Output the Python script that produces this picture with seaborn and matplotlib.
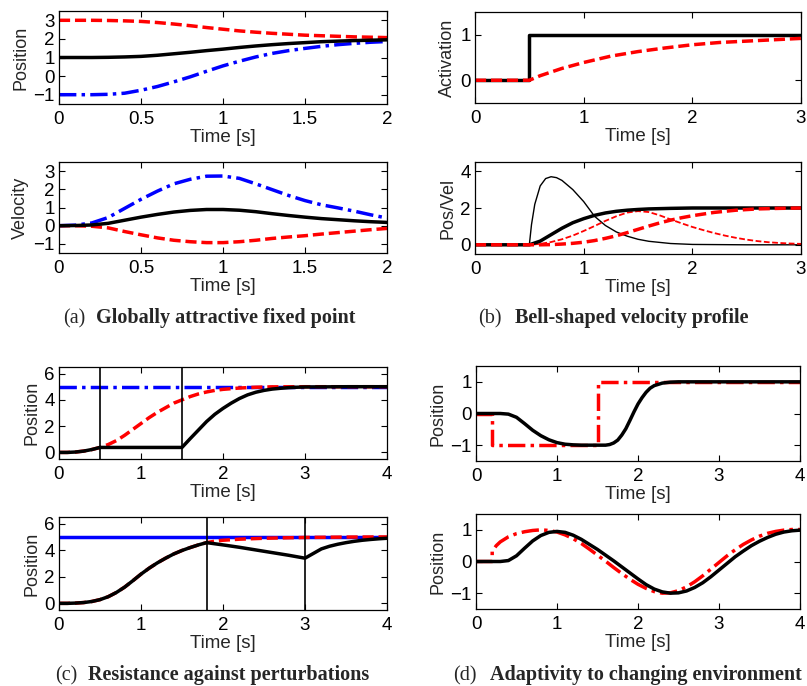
import numpy as np
import pandas as pd
import seaborn as sns
import matplotlib.pyplot as plt

# ---------------- data ----------------
# (a) globally attractive fixed point
t_a = [0.0, 0.1, 0.2, 0.3, 0.4, 0.5, 0.6, 0.7, 0.8, 0.9, 1.0,
       1.1, 1.2, 1.3, 1.4, 1.5, 1.6, 1.7, 1.8, 1.9, 2.0]
pos_a_black = [1.0, 1.0, 1.0, 1.01, 1.03, 1.06, 1.12, 1.2, 1.28, 1.37, 1.45,
               1.54, 1.62, 1.69, 1.75, 1.8, 1.85, 1.88, 1.91, 1.93, 1.95]
pos_a_red = [3.0, 3.0, 3.0, 2.99, 2.97, 2.94, 2.88, 2.8, 2.71, 2.61, 2.52,
             2.43, 2.36, 2.3, 2.25, 2.2, 2.17, 2.14, 2.11, 2.09, 2.07]
pos_a_blue = [-1.0, -1.0, -1.0, -0.98, -0.92, -0.76, -0.56, -0.31, -0.04, 0.26, 0.55,
              0.8, 1.03, 1.22, 1.37, 1.49, 1.6, 1.69, 1.76, 1.82, 1.86]
vel_a_black = [0.0, 0.01, 0.04, 0.13, 0.3, 0.47, 0.62, 0.75, 0.84, 0.89, 0.89,
               0.85, 0.77, 0.66, 0.56, 0.47, 0.39, 0.33, 0.27, 0.22, 0.18]
vel_a_red = [0.0, 0.0, -0.03, -0.12, -0.32, -0.5, -0.67, -0.8, -0.88, -0.93, -0.93,
             -0.88, -0.8, -0.7, -0.62, -0.55, -0.46, -0.38, -0.3, -0.22, -0.15]
vel_a_blue = [0.0, 0.03, 0.15, 0.45, 0.95, 1.45, 1.9, 2.3, 2.55, 2.72, 2.73,
              2.6, 2.3, 1.98, 1.66, 1.38, 1.15, 0.98, 0.8, 0.6, 0.42]

# (b) bell-shaped velocity profile
t_b_step = [0.0, 0.5, 0.5, 3.0]
act_b_black = [0.0, 0.0, 1.0, 1.0]
t_b_act = [0.0, 0.5, 0.6, 0.7, 0.8, 1.0, 1.25, 1.5, 1.75, 2.0, 2.25, 2.5, 2.75, 3.0]
act_b_red = [0.0, 0.0, 0.1, 0.18, 0.26, 0.39, 0.53, 0.63, 0.71, 0.78, 0.83, 0.86, 0.89, 0.92]

t_b_vel_black = [0.0, 0.5, 0.52, 0.55, 0.6, 0.65, 0.7, 0.75, 0.8, 0.9, 1.0, 1.1,
                 1.2, 1.3, 1.4, 1.5, 1.6, 1.8, 2.0, 2.5, 3.0]
vel_b_black = [0.0, 0.0, 1.1, 2.2, 3.2, 3.6, 3.7, 3.65, 3.5, 3.0, 2.35, 1.55,
               1.05, 0.7, 0.47, 0.3, 0.19, 0.07, 0.02, 0.0, 0.0]
t_b_pos_black = [0.0, 0.5, 0.6, 0.7, 0.8, 0.9, 1.0, 1.1, 1.2, 1.3, 1.4, 1.5, 1.6, 1.8, 2.0, 3.0]
pos_b_black = [0.0, 0.0, 0.2, 0.55, 0.9, 1.2, 1.42, 1.6, 1.73, 1.82, 1.88, 1.92, 1.95, 1.98, 2.0, 2.0]
t_b_vel_red = [0.0, 0.5, 0.6, 0.7, 0.8, 0.9, 1.0, 1.1, 1.2, 1.3, 1.4, 1.5, 1.6, 1.7, 1.8,
               1.9, 2.0, 2.1, 2.2, 2.3, 2.4, 2.5, 2.6, 2.7, 2.8, 2.9, 3.0]
vel_b_red = [0.0, 0.0, 0.05, 0.15, 0.3, 0.5, 0.75, 1.02, 1.3, 1.55, 1.75, 1.83, 1.78, 1.6, 1.38,
             1.17, 0.97, 0.8, 0.64, 0.5, 0.38, 0.28, 0.2, 0.14, 0.1, 0.07, 0.05]
t_b_pos_red = [0.0, 0.5, 0.6, 0.7, 0.8, 0.9, 1.0, 1.1, 1.2, 1.3, 1.4, 1.5, 1.6, 1.7, 1.8,
               1.9, 2.0, 2.2, 2.4, 2.6, 2.8, 3.0]
pos_b_red = [0.0, 0.0, 0.0, 0.01, 0.04, 0.08, 0.14, 0.23, 0.35, 0.49, 0.66, 0.84, 1.02, 1.19, 1.34,
             1.47, 1.58, 1.76, 1.88, 1.95, 1.98, 2.0]

# (c) resistance against perturbations
t_c1_black = [0.0, 0.1, 0.2, 0.3, 0.4, 0.5, 1.5, 1.6, 1.7, 1.8, 1.9, 2.0, 2.1, 2.2, 2.3,
              2.4, 2.5, 2.6, 2.7, 2.8, 2.9, 3.0, 3.5, 4.0]
pos_c1_black = [0.0, 0.0, 0.03, 0.1, 0.22, 0.38, 0.38, 1.05, 1.7, 2.35, 2.9, 3.35, 3.75, 4.1, 4.38,
                4.58, 4.72, 4.82, 4.88, 4.93, 4.96, 4.98, 5.0, 5.0]
t_c1_red = [0.0, 0.1, 0.2, 0.3, 0.4, 0.5, 0.6, 0.7, 0.8, 0.9, 1.0, 1.1, 1.2, 1.3, 1.4, 1.5,
            1.6, 1.7, 1.8, 1.9, 2.0, 2.2, 2.4, 2.6, 3.0, 4.0]
pos_c1_red = [0.0, 0.0, 0.03, 0.1, 0.22, 0.38, 0.6, 0.9, 1.3, 1.75, 2.2, 2.65, 3.05, 3.4, 3.75, 4.0,
              4.25, 4.45, 4.6, 4.72, 4.8, 4.9, 4.96, 4.99, 5.0, 5.0]
goal_c = 5.0
perturb_c1 = [0.5, 1.5]

t_c2_black = [0.0, 0.1, 0.2, 0.3, 0.4, 0.5, 0.6, 0.7, 0.8, 0.9, 1.0, 1.1, 1.2, 1.3, 1.4, 1.5,
              1.6, 1.7, 1.8, 2.0, 2.2, 2.4, 2.6, 2.8, 3.0, 3.1, 3.2, 3.3, 3.4, 3.5, 3.6,
              3.7, 3.8, 3.9, 4.0]
pos_c2_black = [0.0, 0.0, 0.02, 0.06, 0.14, 0.28, 0.5, 0.82, 1.22, 1.7, 2.2, 2.65, 3.05, 3.4, 3.72, 3.98,
                4.2, 4.4, 4.57, 4.4, 4.22, 4.02, 3.82, 3.62, 3.4, 3.75, 4.1, 4.3, 4.45, 4.57, 4.67,
                4.75, 4.81, 4.86, 4.9]
t_c2_red = [0.0, 0.1, 0.2, 0.3, 0.4, 0.5, 0.6, 0.7, 0.8, 0.9, 1.0, 1.1, 1.2, 1.3, 1.4, 1.5,
            1.6, 1.7, 1.8, 1.9, 2.0, 2.2, 2.5, 3.0, 3.5, 4.0]
pos_c2_red = [0.0, 0.0, 0.02, 0.06, 0.14, 0.28, 0.5, 0.82, 1.22, 1.7, 2.2, 2.65, 3.05, 3.4, 3.72, 3.98,
              4.2, 4.4, 4.57, 4.68, 4.75, 4.83, 4.9, 4.96, 4.99, 5.0]
perturb_c2 = [1.8, 3.0]

# (d) adaptivity to changing environment
t_d1_red = [0.0, 0.2, 0.2, 1.5, 1.5, 4.0]
pos_d1_red = [0.0, 0.0, -1.0, -1.0, 1.0, 1.0]
t_d1_black = [0.0, 0.3, 0.4, 0.5, 0.6, 0.7, 0.8, 0.9, 1.0, 1.1, 1.2, 1.3, 1.6, 1.65, 1.7,
              1.75, 1.8, 1.85, 1.9, 1.95, 2.0, 2.05, 2.1, 2.15, 2.2, 2.3, 2.4, 2.5, 4.0]
pos_d1_black = [0.0, 0.0, -0.02, -0.12, -0.32, -0.53, -0.7, -0.83, -0.92, -0.97, -0.99, -1.0, -1.0, -0.98, -0.93,
                -0.84, -0.68, -0.48, -0.22, 0.05, 0.3, 0.5, 0.67, 0.8, 0.88, 0.96, 0.99, 1.0, 1.0]

t_d2_black = [0.0, 0.3, 0.4, 0.5, 0.6, 0.7, 0.8, 0.9, 1.0, 1.1, 1.2, 1.3, 1.4, 1.5, 1.6, 1.7,
              1.8, 1.9, 2.0, 2.1, 2.2, 2.3, 2.4, 2.5, 2.6, 2.7, 2.8, 2.9, 3.0, 3.1, 3.2,
              3.3, 3.4, 3.5, 3.6, 3.7, 3.8, 3.9, 4.0]
pos_d2_black = [0.0, 0.0, 0.03, 0.18, 0.42, 0.65, 0.82, 0.92, 0.95, 0.92, 0.83, 0.7, 0.54, 0.38, 0.2, 0.02,
                -0.17, -0.36, -0.55, -0.73, -0.87, -0.96, -1.0, -0.99, -0.93, -0.82, -0.67, -0.48, -0.27, -0.06, 0.15,
                0.33, 0.5, 0.64, 0.76, 0.86, 0.93, 0.97, 0.99]
t_d2_red = [0.0, 0.2, 0.2, 0.25, 0.3, 0.4, 0.5, 0.6, 0.7, 0.8, 0.9, 1.0, 1.1, 1.2, 1.3, 1.4,
            1.5, 1.6, 1.7, 1.8, 1.9, 2.0, 2.1, 2.2, 2.3, 2.4, 2.5, 2.6, 2.7, 2.8, 2.9,
            3.0, 3.1, 3.2, 3.3, 3.4, 3.5, 3.6, 3.7, 3.8, 3.9, 4.0]
pos_d2_red = [0.0, 0.0, 0.32, 0.5, 0.62, 0.78, 0.88, 0.94, 0.98, 1.0, 0.98, 0.93, 0.84, 0.72, 0.57, 0.39,
              0.2, 0.01, -0.19, -0.38, -0.56, -0.72, -0.85, -0.95, -1.0, -0.99, -0.92, -0.8, -0.64, -0.45, -0.24,
              -0.03, 0.18, 0.37, 0.54, 0.68, 0.8, 0.89, 0.95, 0.99, 1.01, 1.01]

captions = [("(a)", "Globally attractive fixed point"),
            ("(b)", "Bell-shaped velocity profile"),
            ("(c)", "Resistance against perturbations"),
            ("(d)", "Adaptivity to changing environment")]

# ---------------- style ----------------
sns.set_theme(style="ticks")
plt.rcParams['font.family'] = ['Liberation Sans', 'DejaVu Sans']
plt.rcParams.update({
    'xtick.direction': 'in', 'ytick.direction': 'in',
    'xtick.top': True, 'ytick.right': True,
    'xtick.major.size': 4, 'ytick.major.size': 4,
    'xtick.major.width': 0.8, 'ytick.major.width': 0.8,
    'axes.linewidth': 0.9, 'axes.edgecolor': 'black',
    'xtick.color': 'black', 'ytick.color': 'black',
    'xtick.labelsize': 13.5, 'ytick.labelsize': 13.5,
    'xtick.major.pad': 5, 'ytick.major.pad': 3,
    'axes.labelpad': 1.5,
})

W, H = 807, 686
fig = plt.figure(figsize=(W / 100, H / 100), dpi=100)


def add_ax(x0, y0, x1, y1):
    return fig.add_axes([x0 / W, 1 - y1 / H, (x1 - x0) / W, (y1 - y0) / H])


BLK, RED, BLU = "black", (1, 0, 0), (0, 0, 1)
THICK, THIN = 2.5, 1.0
DASH = (3.2, 1.4)
DASHDOT = (5.0, 1.5, 1.0, 1.5)


def line(ax, x, y, color, ls="-", lw=THICK):
    df = pd.DataFrame({"t": x, "v": y})
    lines_before = len(ax.lines)
    sns.lineplot(data=df, x="t", y="v", ax=ax, color=color,
                 linewidth=lw, estimator=None, sort=False, legend=False)
    for ln in ax.lines[lines_before:]:
        if ls == "--":
            ln.set_dashes(DASH)
        elif ls == "-.":
            ln.set_dashes(DASHDOT)


def finish(ax, xlim, xticks, xlabels, ylim, yticks, ylabel):
    ax.set_xlim(*xlim)
    ax.set_ylim(*ylim)
    ax.set_xticks(xticks)
    ax.set_xticklabels(xlabels)
    ax.set_yticks(yticks)
    ax.set_xlabel("Time [s]", fontsize=13.5, labelpad=1)
    ax.set_ylabel(ylabel, fontsize=13, labelpad=3)
    for s in ax.spines.values():
        s.set_visible(True)


# (a)
ax = add_ax(59, 11, 387, 104)
line(ax, t_a, pos_a_blue, BLU, "-.")
line(ax, t_a, pos_a_red, RED, "--")
line(ax, t_a, pos_a_black, BLK, "-")
finish(ax, (0, 2), [0, 0.5, 1, 1.5, 2], ["0", "0.5", "1", "1.5", "2"], (-1.5, 3.5), [-1, 0, 1, 2, 3], "Position")

ax = add_ax(59, 162, 387, 253)
line(ax, t_a, vel_a_blue, BLU, "-.")
line(ax, t_a, vel_a_red, RED, "--")
line(ax, t_a, vel_a_black, BLK, "-")
finish(ax, (0, 2), [0, 0.5, 1, 1.5, 2], ["0", "0.5", "1", "1.5", "2"], (-1.5, 3.5), [-1, 0, 1, 2, 3], "Velocity")

# (b)
ax = add_ax(475, 12, 801, 103)
line(ax, t_b_step, act_b_black, BLK, "-")
line(ax, t_b_act, act_b_red, RED, "--")
finish(ax, (0, 3), [0, 1, 2, 3], ["0", "1", "2", "3"], (-0.5, 1.5), [0, 1], "Activation")

ax = add_ax(475, 162, 801, 254)
line(ax, t_b_vel_black, vel_b_black, BLK, "-", THIN)
line(ax, t_b_vel_red, vel_b_red, RED, "--", THIN * 1.3)
line(ax, t_b_pos_black, pos_b_black, BLK, "-")
line(ax, t_b_pos_red, pos_b_red, RED, "--")
finish(ax, (0, 3), [0, 1, 2, 3], ["0", "1", "2", "3"], (-0.5, 4.5), [0, 2, 4], "Pos/Vel")

# (c)
ax = add_ax(59, 367, 387, 459)
ax.axhline(goal_c, color=BLU, linewidth=THICK, dashes=DASHDOT)
line(ax, t_c1_red, pos_c1_red, RED, "--")
line(ax, t_c1_black, pos_c1_black, BLK, "-")
for p in perturb_c1:
    ax.axvline(p, color=BLK, linewidth=1.2)
finish(ax, (0, 4), [0, 1, 2, 3, 4], ["0", "1", "2", "3", "4"], (-0.5, 6.5), [0, 2, 4, 6], "Position")

ax = add_ax(59, 517, 387, 610)
ax.axhline(goal_c, color=BLU, linestyle="-", linewidth=THICK)
line(ax, t_c2_red, pos_c2_red, RED, "--")
line(ax, t_c2_black, pos_c2_black, BLK, "-")
for p in perturb_c2:
    ax.axvline(p, color=BLK, linewidth=1.2)
finish(ax, (0, 4), [0, 1, 2, 3, 4], ["0", "1", "2", "3", "4"], (-0.5, 6.5), [0, 2, 4, 6], "Position")

# (d)
ax = add_ax(476, 366, 800, 461)
line(ax, t_d1_red, pos_d1_red, RED, "-.")
line(ax, t_d1_black, pos_d1_black, BLK, "-")
finish(ax, (0, 4), [0, 1, 2, 3, 4], ["0", "1", "2", "3", "4"], (-1.5, 1.5), [-1, 0, 1], "Position")

ax = add_ax(476, 514, 800, 609)
line(ax, t_d2_red, pos_d2_red, RED, "-.")
line(ax, t_d2_black, pos_d2_black, BLK, "-")
finish(ax, (0, 4), [0, 1, 2, 3, 4], ["0", "1", "2", "3", "4"], (-1.5, 1.5), [-1, 0, 1], "Position")

# captions: (label left, bold left, bold right, baseline) in pixels
cap_pos = [(63, 96, 362, 323), (478, 515, 760, 323), (55, 88, 385, 680), (453, 490, 802, 680)]
serif = ['Liberation Serif', 'DejaVu Serif']
fig.canvas.draw()
renderer = fig.canvas.get_renderer()
for (lab, txt), (x0, x1, x2, yb) in zip(captions, cap_pos):
    tb = fig.text(x1 / W, 1 - yb / H, txt, family=serif, fontsize=12, fontweight="bold",
                  ha="left", va="baseline")
    w = tb.get_window_extent(renderer).width
    fs = 12 * (x2 - x1) / w
    fs = min(fs, 14.5)
    tb.set_fontsize(fs)
    fig.text(x0 / W, 1 - yb / H, lab, family=serif, fontsize=fs, ha="left", va="baseline")

fig.savefig("out.png", dpi=100)
